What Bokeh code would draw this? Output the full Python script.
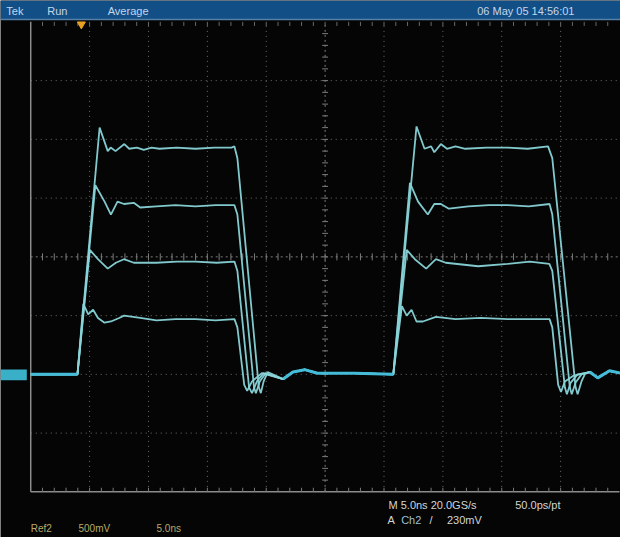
import numpy as np
from bokeh.plotting import figure
from bokeh.models import Range1d, Label
from bokeh.embed import file_html
from bokeh.resources import INLINE

# ---------------- data (time in ns, level in V; 5 ns/div, 500 mV/div) -------------
lead_t = [0.0, 3.97]
lead_v = [-1.00, -1.00]
gap_t = [21.44, 22.27, 23.26, 24.34, 25.33, 27.50, 30.79]
gap_v = [-1.04, -0.98, -0.96, -0.99, -0.99, -0.99, -1.00]
tail_t = [47.48, 48.15, 49.15, 50.08]
tail_v = [-0.98, -1.03, -0.97, -0.99]

# trace A (highest level)
a1_t = [5.85, 6.54, 6.79, 7.20, 7.95, 8.36, 9.02, 9.60, 10.26, 10.93, 12.40, 13.99, 15.60, 17.05, 17.30, 17.55, 19.37, 19.54, 19.78, 20.12]
a1_v = [1.10, 0.90, 0.93, 0.90, 0.96, 0.92, 0.93, 0.91, 0.93, 0.92, 0.93, 0.92, 0.93, 0.93, 0.94, 0.84, -1.11, -1.16, -1.06, -0.98]
a2_t = [32.76, 33.44, 34.00, 34.27, 34.83, 35.35, 36.07, 36.90, 38.70, 40.48, 42.20, 43.93, 44.29, 46.27, 46.44, 46.77, 47.10]
a2_v = [1.11, 0.92, 0.94, 0.89, 0.96, 0.92, 0.94, 0.92, 0.93, 0.93, 0.92, 0.94, 0.84, -1.11, -1.17, -1.06, -0.99]

# trace B
b1_t = [5.49, 6.27, 6.81, 7.37, 7.92, 8.75, 9.30, 10.68, 12.30, 13.99, 15.70, 17.30, 17.55, 18.96, 19.12, 19.45, 19.95]
b1_v = [0.61, 0.47, 0.36, 0.47, 0.45, 0.46, 0.42, 0.43, 0.44, 0.43, 0.44, 0.44, 0.36, -1.11, -1.16, -1.06, -0.99]
b2_t = [32.20, 32.89, 33.72, 34.27, 34.83, 35.51, 37.17, 38.90, 40.48, 42.30, 44.06, 44.29, 45.78, 45.94, 46.27, 46.77]
b2_v = [0.63, 0.47, 0.36, 0.45, 0.45, 0.41, 0.43, 0.44, 0.44, 0.43, 0.45, 0.36, -1.11, -1.17, -1.07, -1.00]

# trace C
c1_t = [5.02, 5.71, 6.54, 7.23, 7.92, 8.75, 10.68, 12.40, 13.99, 15.80, 17.30, 17.55, 18.54, 18.79, 19.21, 19.78]
c1_v = [0.06, -0.02, -0.10, -0.05, -0.02, -0.05, -0.05, -0.04, -0.04, -0.05, -0.04, -0.12, -1.11, -1.16, -1.06, -0.99]
c2_t = [31.93, 32.62, 33.58, 34.41, 35.24, 38.00, 40.48, 42.38, 44.04, 44.29, 45.36, 45.53, 45.86, 46.44]
c2_v = [0.06, -0.02, -0.10, -0.02, -0.05, -0.08, -0.06, -0.04, -0.06, -0.12, -1.11, -1.17, -1.07, -1.00]

# trace D (lowest level)
d1_t = [4.47, 4.88, 5.30, 5.71, 6.27, 6.81, 7.51, 7.92, 9.30, 10.68, 12.30, 13.99, 15.70, 17.30, 17.55, 18.13, 18.38, 18.79, 19.62]
d1_v = [-0.40, -0.49, -0.45, -0.52, -0.56, -0.55, -0.52, -0.50, -0.52, -0.54, -0.53, -0.53, -0.54, -0.53, -0.60, -1.09, -1.14, -1.06, -0.99]
d2_t = [31.52, 31.93, 32.34, 32.76, 33.30, 34.41, 36.07, 38.20, 40.48, 42.30, 44.06, 44.29, 44.79, 45.03, 45.36, 46.11]
d2_v = [-0.42, -0.50, -0.45, -0.55, -0.55, -0.51, -0.53, -0.52, -0.53, -0.53, -0.53, -0.60, -1.09, -1.15, -1.06, -1.01]

trigger_time = 4.30

top_left_labels = ["Tek", "Run", "Average"]
date_label = "06 May 05 14:56:01"
status_line1 = ["M 5.0ns 20.0GS/s", "50.0ps/pt"]
status_line2 = ["A", "Ch2", "/", "230mV"]
ref_labels = ["Ref2", "500mV", "5.0ns"]

# ---------------- layout helpers (reference pixel -> data) ----------------
def X(px):
    return (px - 31.0) / 12.08

def Y(py):
    return (264.0 - py) / 121.0

W, H = 620, 537
p = figure(width=W, height=H, x_range=Range1d(X(0), X(636)), y_range=Range1d(Y(553), Y(0)),
           toolbar_location=None, output_backend="svg", x_axis_type=None, y_axis_type=None,
           min_border=0, min_border_left=0, min_border_right=0, min_border_top=0, min_border_bottom=0,
           background_fill_color="#050505", border_fill_color="#050505", outline_line_color=None)
p.grid.visible = False

# graticule: dotted division lines
for k in range(1, 10):
    if k == 5:
        continue
    p.segment(x0=[5.0 * k], y0=[-2.0], x1=[5.0 * k], y1=[2.0], line_color="#6e6e6e", line_width=1, line_dash="1 4")
for k in [-3, -2, -1, 1, 2, 3]:
    p.segment(x0=[0.0], y0=[0.5 * k], x1=[50.0], y1=[0.5 * k], line_color="#6e6e6e", line_width=1, line_dash="1 4")

# centre cross with minor ticks
p.segment(x0=[0.0], y0=[0.0], x1=[50.0], y1=[0.0], line_color="#7c7c7c", line_width=1, line_dash="2 3")
p.segment(x0=[25.0], y0=[-2.0], x1=[25.0], y1=[2.0], line_color="#7c7c7c", line_width=1, line_dash="2 3")
ht = np.arange(1.0, 50.0, 1.0)
p.segment(x0=ht, y0=-0.03, x1=ht, y1=0.03, line_color="#7c7c7c", line_width=1)
vt = np.arange(-1.9, 2.0, 0.1)
p.segment(x0=24.75, y0=vt, x1=25.25, y1=vt, line_color="#7c7c7c", line_width=1)

# border with ticks
p.segment(x0=[0.0], y0=[-2.0], x1=[0.0], y1=[2.0], line_color="#8c8c8c", line_width=1.5)
p.segment(x0=[0.0], y0=[-2.0], x1=[50.0], y1=[-2.0], line_color="#8c8c8c", line_width=1.5)
bt = np.arange(1.0, 50.0, 1.0)
p.segment(x0=bt, y0=-2.0, x1=bt, y1=-1.965, line_color="#7a7a7a", line_width=1)
p.segment(x0=bt, y0=2.0, x1=bt, y1=1.965, line_color="#6a6a6a", line_width=1)

# top status bar
p.quad(left=[X(0)], right=[X(636)], top=[Y(0)], bottom=[Y(19)], fill_color="#124f86", line_color=None)
p.segment(x0=[X(0)], y0=[Y(19.5)], x1=[X(636)], y1=[Y(19.5)], line_color="#5680a8", line_width=1.5)

# reference level marker on the left
p.quad(left=[X(0)], right=[X(27)], top=[Y(380)], bottom=[Y(391)], fill_color="#3ab0c8", line_color=None)

# waveforms
trace_color = "#88d4d8"
for t1, v1, t2, v2 in [(a1_t, a1_v, a2_t, a2_v), (b1_t, b1_v, b2_t, b2_v),
                       (c1_t, c1_v, c2_t, c2_v), (d1_t, d1_v, d2_t, d2_v)]:
    tt = lead_t + t1 + gap_t + t2 + tail_t
    vv = lead_v + v1 + gap_v + v2 + tail_v
    p.line(tt, vv, line_color=trace_color, line_width=1.8, line_alpha=0.95)

for bt_, bv_ in [(lead_t, lead_v), (gap_t, gap_v), (tail_t, tail_v)]:
    p.line(bt_, bv_, line_color="#44bcd8", line_width=3)

# trigger position marker
p.scatter(x=[trigger_time], y=[Y(24.5)], marker="inverted_triangle", size=8,
          fill_color="#e8a020", line_color="#e8a020")

FONT = "Liberation Sans"

def lab(text, px, py, color, size="11px"):
    p.add_layout(Label(x=X(px), y=Y(py), text=text, text_color=color, text_font=FONT,
                       text_font_size=size, text_baseline="middle", text_align="left"))

for txt, px in zip(top_left_labels, [6, 48, 110]):
    lab(txt, px, 11, "#c4d6ea")
lab(date_label, 489, 11, "#c4d6ea")

lab(status_line1[0], 398, 520, "#d4d4d4")
lab(status_line1[1], 528, 520, "#d4d4d4")
for txt, px, col in zip(status_line2, [397, 411, 440, 458], ["#d4d4d4", "#9cc0d8", "#d4d4d4", "#d4d4d4"]):
    lab(txt, px, 535, col)

for txt, px in zip(ref_labels, [31, 80, 160]):
    lab(txt, px, 544, "#b8aa6a", size="10px")

open("out.html", "w").write(file_html(p, INLINE))
